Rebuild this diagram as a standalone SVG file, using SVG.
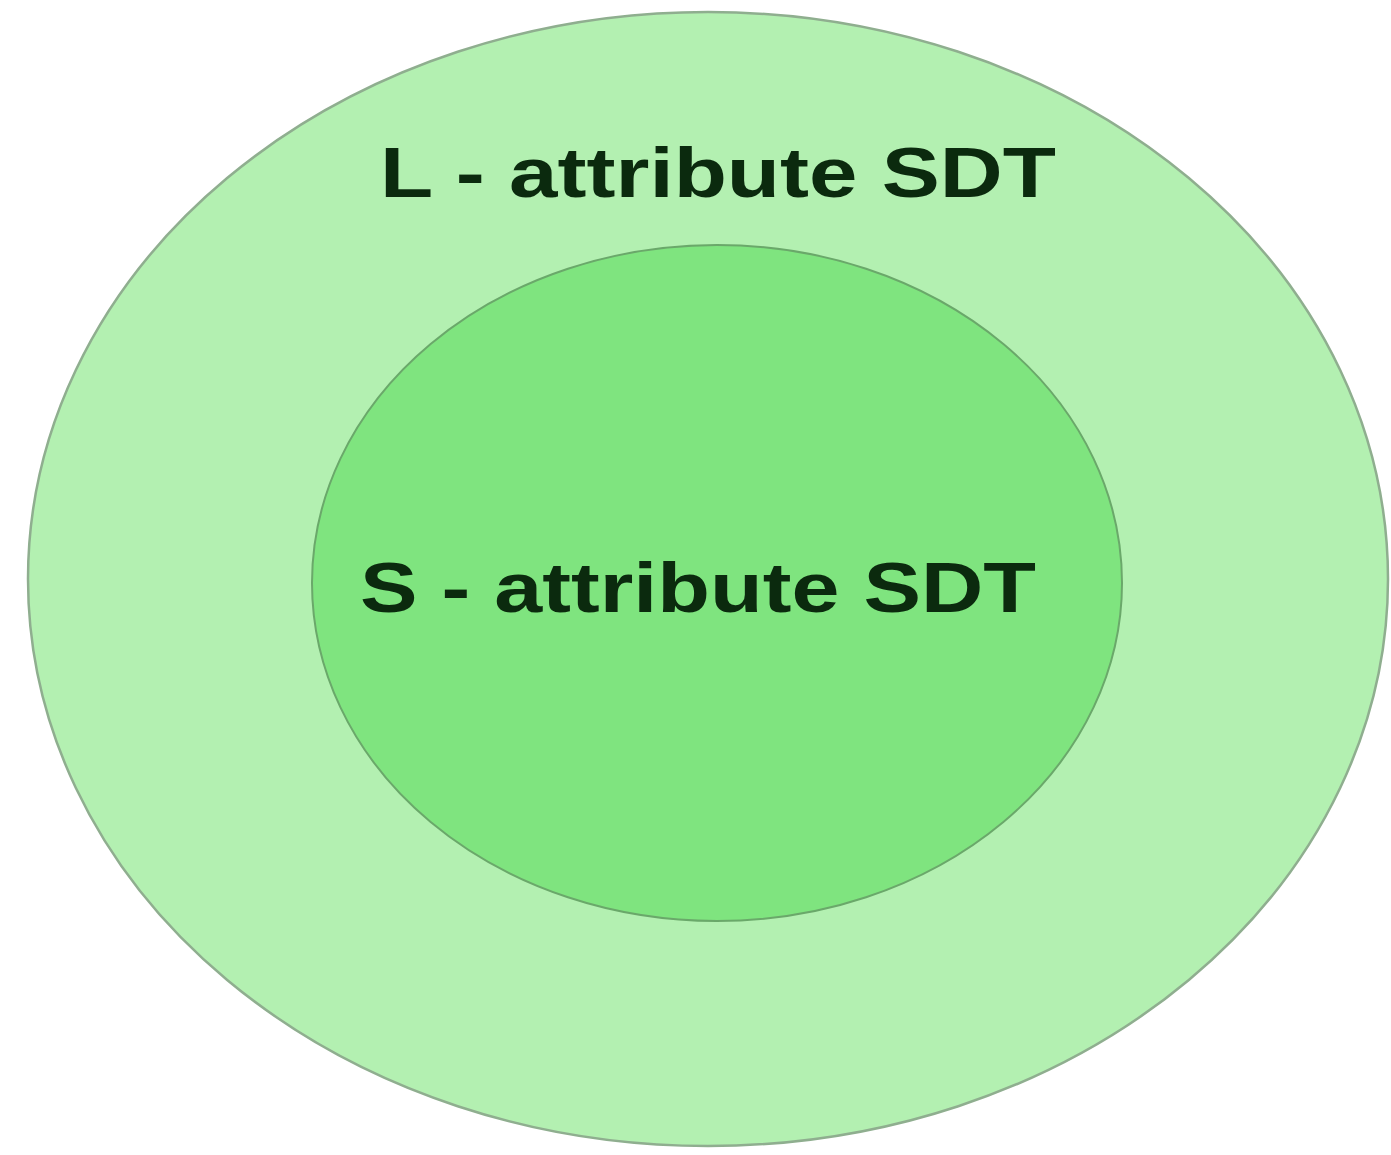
<svg xmlns="http://www.w3.org/2000/svg" width="1391" height="1155" viewBox="0 0 1391 1155">
<style>
.lbl{font-family:"Liberation Sans",Arial,sans-serif;font-weight:bold;font-size:70px;fill:#0b2a0e}
</style>
<rect width="1391" height="1155" fill="#ffffff"/>
<g id="outer">
<ellipse cx="708" cy="579" rx="680" ry="567" fill="#b3f0b1" stroke="#8fae8f" stroke-width="2.5"/>
<text class="lbl" x="380" y="197" textLength="676" lengthAdjust="spacingAndGlyphs">L - attribute SDT</text>
</g>
<g id="inner">
<ellipse cx="717" cy="583" rx="405" ry="338" fill="#7fe47f" stroke="#6aa86a" stroke-width="2"/>
<text class="lbl" x="360" y="612" textLength="676" lengthAdjust="spacingAndGlyphs">S - attribute SDT</text>
</g>
<g id="connectors"/>
</svg>
